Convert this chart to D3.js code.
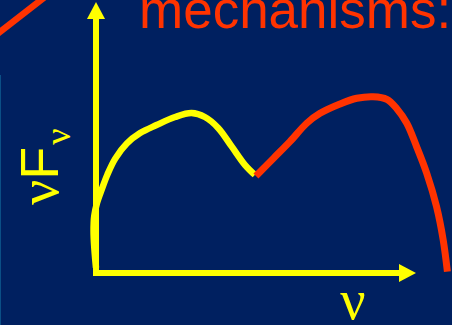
<!DOCTYPE html>
<html>
<head>
<meta charset="utf-8">
<script src="https://cdn.jsdelivr.net/npm/d3@7"></script>
<style>
  html, body { margin: 0; padding: 0; background: #002060; }
  svg { display: block; }
</style>
</head>
<body>
<div id="chart"></div>
<script>
/* Sketch of a two-bump nuFnu spectrum (log nu vs log nuFnu, arbitrary units) */

const title = "mechanisms:";
const yLabel = ["ν", "F", "ν"];
const xLabel = "ν";

// low-energy bump (yellow)
const lowBumpX = [0, -0.05, -0.07, -0.05, 0.03, 0.16, 0.33, 0.55, 0.88, 1.26, 1.73, 2.26, 2.73, 3.11, 3.49, 3.88, 4.26, 4.54];
const lowBumpY = [0.2, 1.0, 1.6, 2.2, 2.7, 3.2, 3.8, 4.4, 4.98, 5.38, 5.69, 6.0, 6.15, 6.0, 5.58, 4.86, 4.15, 3.77];

// high-energy bump (red)
const highBumpX = [4.57, 5.07, 5.54, 6.02, 6.4, 6.97, 7.45, 7.92, 8.31, 8.59, 8.88, 9.16, 9.45, 9.73, 9.92, 10.04];
const highBumpY = [3.73, 4.41, 5.05, 5.76, 6.14, 6.5, 6.72, 6.78, 6.68, 6.33, 5.76, 4.86, 3.83, 2.55, 1.27, 0.05];

const width = 452,
    height = 325;

const yellow = "#ffff00",
    red = "#ff3300";

let svg = d3.select("#chart")
    .append("svg")
    .attr("width", width)
    .attr("height", height)
    .attr("viewBox", [0, 0, width, height]);

svg.append("rect")
    .attr("width", width)
    .attr("height", height)
    .attr("fill", "#002060");

// thin lighter strip at the left edge of the slide
svg.append("line")
    .attr("x1", 0.5).attr("x2", 0.5)
    .attr("y1", 75).attr("y2", height)
    .attr("stroke", "#0b4f86")
    .attr("stroke-width", 1);

// red diagonal stroke in the top-left corner
svg.append("line")
    .attr("x1", -10).attr("y1", 39.8)
    .attr("x2", 51).attr("y2", -7.8)
    .attr("stroke", red)
    .attr("stroke-width", 6.5);

const x = d3.scaleLinear()
    .domain([0, 10])
    .range([96, 446]);

const y = d3.scaleLinear()
    .domain([0, 10])
    .range([273, 13]);

/* axes: plain arrows, no ticks */
const axisW = 6;
const head = 17, half = 9;

const xEnd = 416, yEnd = 2;

svg.append("line")
    .attr("x1", x(0)).attr("x2", x(0))
    .attr("y1", y(0) + 3).attr("y2", yEnd + head)
    .attr("stroke", yellow)
    .attr("stroke-width", axisW);

svg.append("path")
    .attr("d", `M${x(0)},${yEnd} L${x(0) + half},${yEnd + head} L${x(0) - half},${yEnd + head} Z`)
    .attr("fill", yellow);

svg.append("line")
    .attr("x1", x(0) - 3).attr("x2", xEnd - head)
    .attr("y1", y(0)).attr("y2", y(0))
    .attr("stroke", yellow)
    .attr("stroke-width", axisW);

svg.append("path")
    .attr("d", `M${xEnd},${y(0)} L${xEnd - head},${y(0) - half} L${xEnd - head},${y(0) + half} Z`)
    .attr("fill", yellow);

/* the two bumps */
const line = d3.line()
    .x(d => x(d[0]))
    .y(d => y(d[1]))
    .curve(d3.curveCatmullRom.alpha(0.5));

svg.append("path")
    .datum(d3.zip(lowBumpX, lowBumpY))
    .attr("d", line)
    .attr("fill", "none")
    .attr("stroke", yellow)
    .attr("stroke-width", 6.5)
    .attr("stroke-linejoin", "round");

svg.append("path")
    .datum(d3.zip(highBumpX, highBumpY))
    .attr("d", line)
    .attr("fill", "none")
    .attr("stroke", red)
    .attr("stroke-width", 7)
    .attr("stroke-linejoin", "round");

/* title fragment */
svg.append("text")
    .attr("x", 139)
    .attr("y", 27.5)
    .attr("fill", red)
    .style("font-family", "'Liberation Sans', Arial, sans-serif")
    .style("font-size", "53px")
    .text(title);

/* y label, rotated */
let yl = svg.append("text")
    .attr("transform", "translate(58,205) rotate(-90)")
    .attr("fill", yellow);

yl.append("tspan")
    .style("font-family", "'Liberation Serif', 'Times New Roman', serif")
    .style("font-size", "56px")
    .text(yLabel[0]);

yl.append("tspan")
    .style("font-family", "'Liberation Sans', Arial, sans-serif")
    .style("font-size", "54px")
    .text(yLabel[1]);

yl.append("tspan")
    .attr("dy", 12)
    .attr("dx", 2)
    .style("font-family", "'Liberation Serif', 'Times New Roman', serif")
    .style("font-size", "36px")
    .text(yLabel[2]);

/* x label */
svg.append("text")
    .attr("x", 353)
    .attr("y", 319)
    .attr("text-anchor", "middle")
    .attr("fill", yellow)
    .style("font-family", "'Liberation Serif', 'Times New Roman', serif")
    .style("font-size", "56px")
    .text(xLabel);
</script>
</body>
</html>
